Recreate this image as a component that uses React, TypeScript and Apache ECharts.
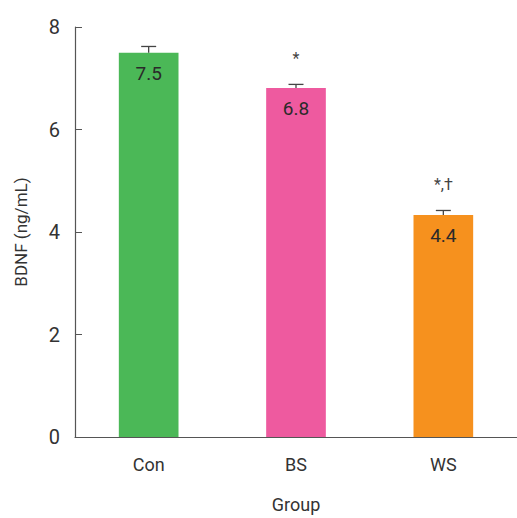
import React, { useEffect, useRef } from "react";
import * as echarts from "echarts";

const categories = ["Con", "BS", "WS"];
const values = [7.5, 6.81, 4.33];
const errors = [0.12, 0.07, 0.09];
const valueLabels = ["7.5", "6.8", "4.4"];
const sigMarks = ["", "*", "*,\u2020"];
const barColors = ["#4BB857", "#EE5A9F", "#F6911E"];
const yTicks = [0, 2, 4, 6, 8];

const FONT = "Roboto, 'Liberation Sans Narrow', sans-serif";

export default function App() {
  const ref = useRef<HTMLDivElement>(null);
  useEffect(() => {
    document.body.style.margin = "0";
    const chart = echarts.init(ref.current!, null, { renderer: "svg" });
    chart.setOption({
      animation: false,
      backgroundColor: "#fff",
      grid: { left: 75, top: 27, width: 453, height: 416, containLabel: false },
      xAxis: {
        type: "category",
        data: categories,
        name: "Group",
        nameLocation: "middle",
        nameGap: 58,
        nameTextStyle: { fontFamily: FONT, fontSize: 18, color: "#333" },
        axisLine: { lineStyle: { color: "#555", width: 1.2 } },
        axisTick: { inside: true, length: 7, lineStyle: { color: "#555" } },
        axisLabel: { fontFamily: FONT, fontSize: 18, color: "#333", margin: 18 },
      },
      yAxis: {
        type: "value",
        min: yTicks[0],
        max: yTicks[yTicks.length - 1],
        interval: 2,
        name: "BDNF (ng/mL)",
        nameLocation: "middle",
        nameGap: 46,
        nameTextStyle: { fontFamily: FONT, fontSize: 17, color: "#333" },
        axisLine: { show: true, lineStyle: { color: "#555", width: 1.2 } },
        axisTick: { show: true, inside: true, length: 7, lineStyle: { color: "#555" } },
        axisLabel: { fontFamily: FONT, fontSize: 20, color: "#333", margin: 15 },
        splitLine: { show: false },
      },
      series: [
        {
          type: "bar",
          barWidth: "40.5%",
          data: values.map((v, i) => ({
            value: v,
            itemStyle: { color: barColors[i] },
            label: {
              show: true,
              position: "insideTop",
              distance: 11,
              formatter: valueLabels[i],
              fontFamily: FONT,
              fontSize: 19,
              color: "#2a2a2a",
            },
          })),
        },
        {
          type: "custom",
          data: values.map((v, i) => [i, v, v + errors[i]]),
          z: 10,
          renderItem: (params: any, api: any) => {
            const i = api.value(0);
            const base = api.coord([i, api.value(1)]);
            const top = api.coord([i, api.value(2)]);
            const cap = 7.5;
            const style = { stroke: "#444", lineWidth: 1.3 };
            const children: any[] = [
              { type: "line", shape: { x1: base[0], y1: base[1], x2: top[0], y2: top[1] }, style },
              { type: "line", shape: { x1: top[0] - cap, y1: top[1], x2: top[0] + cap, y2: top[1] }, style },
            ];
            const mark = sigMarks[params.dataIndex];
            if (mark) {
              children.push({
                type: "text",
                x: top[0],
                y: top[1] - 26,
                style: {
                  text: mark,
                  fontFamily: FONT,
                  fontSize: 16,
                  fill: "#444",
                  align: "center",
                  verticalAlign: "middle",
                },
              });
            }
            return { type: "group", children };
          },
        },
      ],
    });
    return () => chart.dispose();
  }, []);
  return <div ref={ref} style={{ width: 517, height: 518 }} />;
}
